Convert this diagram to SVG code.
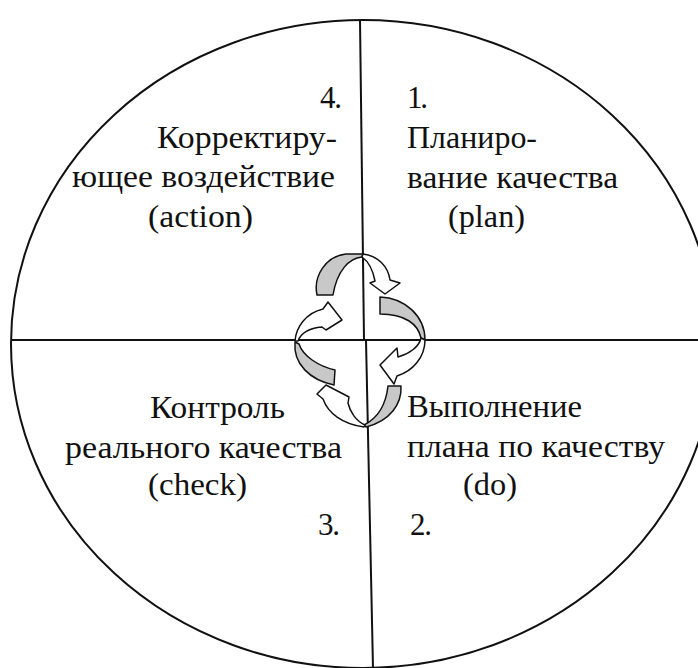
<svg xmlns="http://www.w3.org/2000/svg" width="698" height="668" viewBox="0 0 698 668">
<style>
.ln{fill:none;stroke:#111;stroke-width:2}
text{font-family:'Liberation Serif','Times New Roman','DejaVu Serif',serif;font-size:31px;fill:#111}
.g{fill:#c8c8c8;stroke:#111;stroke-width:1.5;stroke-linejoin:round}
.w{fill:#fff;stroke:#111;stroke-width:1.5;stroke-linejoin:round}
</style>
<rect width="698" height="668" fill="#fff"/>
<g id="frame">
<ellipse class="ln" cx="363" cy="344" rx="352" ry="324"/>
<line class="ln" x1="11" y1="340" x2="698" y2="340"/>
<line class="ln" x1="360" y1="20" x2="364" y2="340"/>
<line class="ln" x1="366" y1="340" x2="373" y2="668"/>
</g>
<g id="q4-act" font-family="Liberation Serif, serif">
<text x="320" y="108" textLength="22">4.</text>
<text x="157" y="148" textLength="180" lengthAdjust="spacingAndGlyphs">Корректиру-</text>
<text x="72" y="187" textLength="263" lengthAdjust="spacingAndGlyphs">ющее воздействие</text>
<text x="148" y="227" textLength="105" lengthAdjust="spacingAndGlyphs">(action)</text>
</g>
<g id="q1-plan" font-family="Liberation Serif, serif">
<text x="407" y="108" textLength="21">1.</text>
<text x="407" y="148" textLength="130" lengthAdjust="spacingAndGlyphs">Планиро-</text>
<text x="407" y="188" textLength="211" lengthAdjust="spacingAndGlyphs">вание качества</text>
<text x="448" y="227" textLength="77" lengthAdjust="spacingAndGlyphs">(plan)</text>
</g>
<g id="q3-check" font-family="Liberation Serif, serif">
<text x="150" y="418" textLength="135" lengthAdjust="spacingAndGlyphs">Контроль</text>
<text x="65" y="458" textLength="277" lengthAdjust="spacingAndGlyphs">реального качества</text>
<text x="148" y="495" textLength="99" lengthAdjust="spacingAndGlyphs">(check)</text>
<text x="318" y="535" textLength="22">3.</text>
</g>
<g id="q2-do" font-family="Liberation Serif, serif">
<text x="407" y="417" textLength="175" lengthAdjust="spacingAndGlyphs">Выполнение</text>
<text x="407" y="457" textLength="258" lengthAdjust="spacingAndGlyphs">плана по качеству</text>
<text x="463" y="495" textLength="54" lengthAdjust="spacingAndGlyphs">(do)</text>
<text x="410" y="535" textLength="22">2.</text>
</g>
<g id="connectors">
<path class="g" d="M317,295 C313,276 326,256 346,254 L363,254 L362,257 C349,258 337,271 333,295 Z"/>
<path class="w" d="M363,254 C378,256 388,266 390,280 L400,283 L385,294 L370,283 L375,281 C373,270 369,262 362,257 Z"/>
<path class="g" d="M380,297 C405,298 425,316 425,340 L421,338 C418,324 405,314 380,314 Z"/>
<path class="w" d="M425,340 C425,357 413,371 397,376 L394,384 L380,365 L397,348 L398,357 C409,354 419,347 421,338 Z"/>
<path class="g" d="M388,386 L401,386 C402,404 390,421 366,427 L364,425 C378,418 386,404 388,386 Z"/>
<path class="w" d="M365,425 C356,421 350,412 348,403 L349,397 L326,385 L317,394 L323,399 C328,413 342,424 364,427 Z"/>
<path class="g" d="M295,342 C293,364 310,380 334,385 L335,370 C318,366 303,356 299,344 Z"/>
<path class="w" d="M295,341 C296,327 306,313 323,309 L328,302 L342,320 L326,330 L322,327 C310,328 301,333 298,341 Z"/>
</g>
</svg>
